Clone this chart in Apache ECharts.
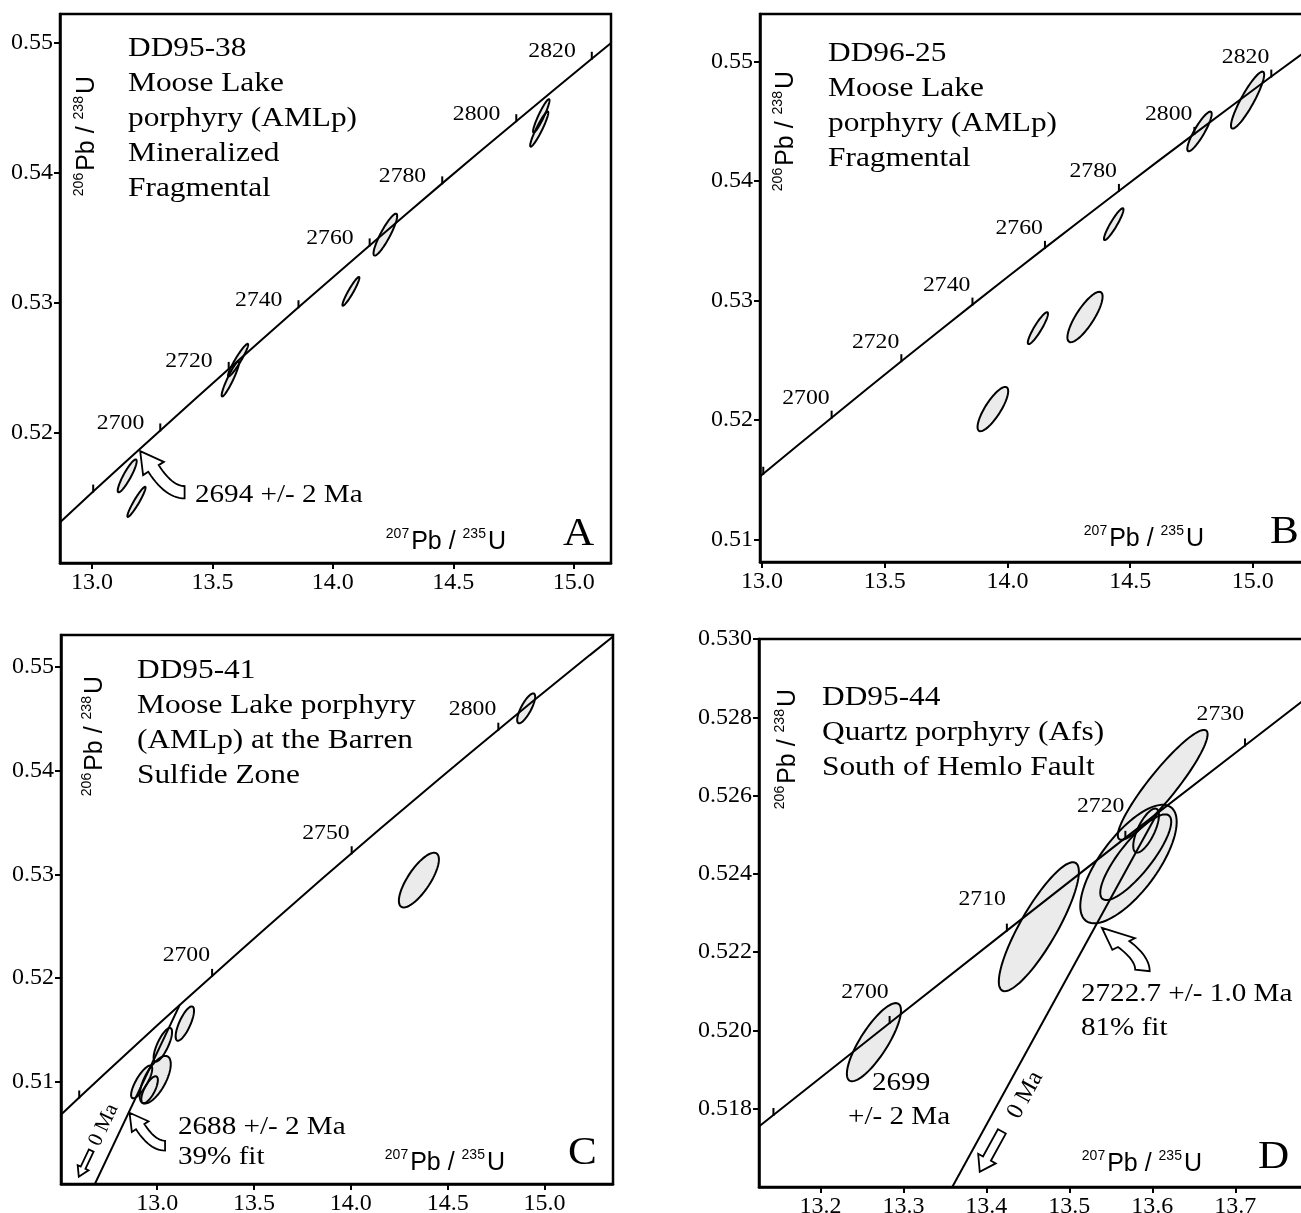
<!DOCTYPE html>
<html>
<head>
<meta charset="utf-8">
<title>U-Pb concordia diagrams</title>
<script src="https://cdn.jsdelivr.net/npm/echarts@6.0.0/dist/echarts.min.js"></script>
<style>
html,body{margin:0;padding:0;background:#fff;}
#chart{width:1301px;height:1213px;}
</style>
</head>
<body>
<div id="chart"></div>
<script>
// ================= DATA =================
// Concordia curve (207Pb/235U, 206Pb/238U) at the ages (Ma) marked along it
const concordiaAge = [2620,2630,2640,2650,2660,2670,2680,2690,2700,2710,2720,2730,2740,2750,2760,2770,2780,2790,2800,2810,2820,2830,2840];
const concordiaX = [12.2012,12.3319,12.4638,12.5971,12.7316,12.8675,13.0048,13.1434,13.2834,13.4247,13.5675,13.7117,13.8573,14.0043,14.1528,14.3028,14.4542,14.6072,14.7617,14.9177,15.0752,15.2343,15.3950];
const concordiaY = [0.50145,0.50378,0.50611,0.50845,0.51079,0.51314,0.51549,0.51784,0.52019,0.52255,0.52492,0.52728,0.52966,0.53203,0.53441,0.53679,0.53918,0.54157,0.54396,0.54636,0.54876,0.55116,0.55357];

// Axis tick labels
const xTicksA = [13.0, 13.5, 14.0, 14.5, 15.0];
const yTicksA = [0.52, 0.53, 0.54, 0.55];
const xTicksB = [13.0, 13.5, 14.0, 14.5, 15.0];
const yTicksB = [0.51, 0.52, 0.53, 0.54, 0.55];
const xTicksC = [13.0, 13.5, 14.0, 14.5, 15.0];
const yTicksC = [0.51, 0.52, 0.53, 0.54, 0.55];
const xTicksD = [13.2, 13.3, 13.4, 13.5, 13.6, 13.7];
const yTicksD = [0.518, 0.520, 0.522, 0.524, 0.526, 0.528, 0.530];

// Age marks on the concordia, and which of them carry a label
const ageMarksA = [2680,2700,2720,2740,2760,2780,2800,2820];
const ageLabelsA = [2700,2720,2740,2760,2780,2800,2820];
const ageMarksB = [2680,2700,2720,2740,2760,2780,2800,2820];
const ageLabelsB = [2700,2720,2740,2760,2780,2800,2820];
const ageMarksC = [2650,2700,2750,2800];
const ageLabelsC = [2700,2750,2800];
const ageMarksD = [2690,2700,2710,2720,2730];
const ageLabelsD = [2700,2710,2720,2730];

// Error ellipses: [x tip 1, y tip 1, x tip 2, y tip 2, minor/major axis ratio]
const ellipsesA = [
  [14.898,0.54565,14.833,0.54309,0.15],
  [14.893,0.54470,14.821,0.54201,0.15],
  [14.264,0.53684,14.172,0.53364,0.20],
  [14.109,0.53198,14.041,0.52978,0.15],
  [13.647,0.52684,13.566,0.52435,0.15],
  [13.609,0.52550,13.540,0.52281,0.15],
  [13.183,0.51795,13.109,0.51544,0.20],
  [13.221,0.51585,13.148,0.51355,0.15]
];
const ellipsesB = [
  [15.042,0.54916,14.915,0.54442,0.20],
  [14.829,0.54581,14.736,0.54252,0.22],
  [14.471,0.53772,14.395,0.53507,0.18],
  [14.163,0.52901,14.085,0.52636,0.20],
  [14.381,0.53069,14.251,0.52655,0.30],
  [13.997,0.52273,13.884,0.51909,0.30]
];
const ellipsesC = [
  [14.946,0.54744,14.865,0.54460,0.30],
  [14.443,0.53201,14.260,0.52687,0.35],
  [13.182,0.51723,13.103,0.51395,0.30],
  [13.069,0.51515,12.989,0.51193,0.30],
  [13.054,0.51241,12.925,0.50792,0.40],
  [12.968,0.51151,12.871,0.50840,0.30],
  [12.996,0.51048,12.925,0.50792,0.35]
];
const ellipsesD = [
  [13.294,0.52068,13.235,0.51872,0.30],
  [13.5075,0.52428,13.419,0.52102,0.25],
  [13.665,0.52766,13.560,0.52489,0.20],
  [13.6225,0.52570,13.520,0.52280,0.40],
  [13.620,0.52549,13.540,0.52336,0.30],
  [13.605,0.52566,13.580,0.52455,0.35]
];

// Discordia lines: upper intercept on the concordia and lower intercept (0 Ma)
const discordiaC = [[13.1157,0.51737],[0,0]];
const discordiaD = [[13.6064,0.52556],[0,0]];

// ================= LAYOUT / STYLE =================
const SERIF = '"Liberation Serif","Times New Roman",Times,serif';
const SANS = '"Liberation Sans",Arial,Helvetica,sans-serif';

const panels = [
  {grid:{left:60,top:14,width:551,height:549}, xr:[12.867,15.155], yr:[0.5100,0.5522], xt:xTicksA, yt:yTicksA, xd:1, yd:2,
   ell:ellipsesA, marks:ageMarksA, labels:ageLabelsA, lab:{dx:16,dy:7}, xName:{gap:105,up:8}, yName:{gap:62,off:12}},
  {grid:{left:760,top:14,width:551,height:548}, xr:[12.9915,15.237], yr:[0.5081,0.5540], xt:xTicksB, yt:yTicksB, xd:1, yd:2,
   ell:ellipsesB, marks:ageMarksB, labels:ageLabelsB, lab:{dx:2,dy:19}, xName:{gap:107,up:10}, yName:{gap:57,off:11}},
  {grid:{left:61,top:635,width:552,height:549}, xr:[12.503,15.354], yr:[0.5001,0.5531], xt:xTicksC, yt:yTicksC, xd:1, yd:2,
   ell:ellipsesC, marks:ageMarksC, labels:ageLabelsC, lab:{dx:2,dy:20}, xName:{gap:108,up:8}, yName:{gap:41,off:19}, disc:discordiaC},
  {grid:{left:759,top:639,width:551,height:548}, xr:[13.126,13.79], yr:[0.516,0.530], xt:xTicksD, yt:yTicksD, xd:1, yd:3,
   ell:ellipsesD, marks:ageMarksD, labels:ageLabelsD, lab:{dx:1,dy:31}, xName:{gap:108,up:10}, yName:{gap:50,off:14}, disc:discordiaD}
];

const richAxis = {
  s:{fontFamily:SANS,fontSize:14,color:'#000',verticalAlign:'top',lineHeight:28,padding:[0,2,0,0]},
  m:{fontFamily:SANS,fontSize:25,color:'#000',verticalAlign:'bottom',lineHeight:28}
};

function concPoint(age){ const k = concordiaAge.indexOf(age); return [concordiaX[k], concordiaY[k]]; }

function ellRender(mode){
  return function(params, api){
    const p1 = api.coord([api.value(0), api.value(1)]);
    const p2 = api.coord([api.value(2), api.value(3)]);
    const r = api.value(4);
    const cx=(p1[0]+p2[0])/2, cy=(p1[1]+p2[1])/2;
    const dx=(p1[0]-p2[0])/2, dy=(p1[1]-p2[1])/2;
    const a=Math.hypot(dx,dy), b=a*r, ux=dx/a, uy=dy/a;
    const pts=[];
    for(let k=0;k<96;k++){
      const t=k/96*Math.PI*2, c=Math.cos(t)*a, s=Math.sin(t)*b;
      pts.push([cx+ux*c-uy*s, cy+uy*c+ux*s]);
    }
    return {type:'polygon', shape:{points:pts},
      style: mode==='fill' ? {fill:'#ebebeb', stroke:'none'} : {fill:'none', stroke:'#000', lineWidth:2}};
  };
}

function markRender(lab){
  return function(params, api){
    const p = api.coord([api.value(0), api.value(1)]);
    const ch = [{type:'line', shape:{x1:p[0],y1:p[1]+1,x2:p[0],y2:p[1]-7}, style:{stroke:'#000',lineWidth:2}}];
    if (api.value(3) === 1) {
      ch.push({type:'text', x:p[0]-lab.dx, y:p[1]-lab.dy, scaleX:1.13,
        style:{text:String(api.value(2)), fontFamily:SERIF, fontSize:21, fill:'#000', align:'right', verticalAlign:'middle'}});
    }
    return {type:'group', children:ch};
  };
}

function quad(p0,c,p1,n){
  const out=[];
  for(let k=1;k<=n;k++){const t=k/n,u=1-t; out.push([u*u*p0[0]+2*u*t*c[0]+t*t*p1[0], u*u*p0[1]+2*u*t*c[1]+t*t*p1[1]]);}
  return out;
}
// curved hollow arrow shape, pixel offsets from its tip
function curvedShape(sh){
  return [[0,0], sh.rb, sh.rn].concat(quad(sh.rn, sh.rc, sh.rt, 14), [sh.lt], quad(sh.lt, sh.lc, sh.ln, 14), [sh.lb]);
}
const shapeAC = curvedShape({rb:[23.7,10.7], rn:[18.5,14], rc:[32,35], rt:[44.4,35], lt:[44.4,47.3], lc:[25.3,47.3], ln:[8.1,20.7], lb:[2.9,24]});
const shapeD = curvedShape({rb:[33,10.3], rn:[27.35,13.2], rc:[47.7,28.5], rt:[47.7,43.3], lt:[33.2,41.7], lc:[33.2,32], ln:[16,19.1], lb:[10.4,22]});

function curvedArrowRender(shape, s){
  return function(params, api){
    const p = api.coord([api.value(0), api.value(1)]);
    return {type:'polygon', shape:{points:shape.map(q=>[p[0]+q[0]*s, p[1]+q[1]*s])},
      style:{fill:'#fff', stroke:'#000', lineWidth:1.8}};
  };
}
function straightArrowRender(disc, len, hw, sw, hl){
  return function(params, api){
    const tip = api.coord([api.value(0), api.value(1)]);
    const a = api.coord(disc[0]), b = api.coord(disc[1]);
    let dx=b[0]-a[0], dy=b[1]-a[1]; const L=Math.hypot(dx,dy); dx/=L; dy/=L;
    const nx=-dy, ny=dx;
    const loc=[[0,0],[-hl,hw],[-hl,sw],[-len,sw],[-len,-sw],[-hl,-sw],[-hl,-hw]];
    return {type:'polygon', shape:{points:loc.map(q=>[tip[0]+dx*q[0]+nx*q[1], tip[1]+dy*q[0]+ny*q[1]])},
      style:{fill:'#fff', stroke:'#000', lineWidth:1.8}};
  };
}

// annotation anchors (arrow tips) in data coordinates
const anchors = {
  arrowA:[13.200,0.5186], arrowC:[12.857,0.50698], arrowD:[13.5393,0.52262],
  zeroC:[12.595,0.50080], zeroD:[13.392,0.51639]
};

const series = [];
panels.forEach((p,i)=>{
  const base = {xAxisIndex:i, yAxisIndex:i, silent:true, animation:false};
  series.push(Object.assign({type:'custom', z:1, renderItem:ellRender('fill'), data:p.ell}, base));
  series.push(Object.assign({type:'line', z:2, symbol:'none', clip:true,
    lineStyle:{color:'#000',width:2}, data:concordiaX.map((x,k)=>[x,concordiaY[k]])}, base));
  if (p.disc) series.push(Object.assign({type:'line', z:2, symbol:'none', clip:true,
    lineStyle:{color:'#000',width:2}, data:p.disc}, base));
  series.push(Object.assign({type:'custom', z:3, renderItem:ellRender('stroke'), data:p.ell}, base));
  series.push(Object.assign({type:'custom', z:4, renderItem:markRender(p.lab),
    data:p.marks.map(a=>{const c=concPoint(a); return [c[0],c[1],a,p.labels.indexOf(a)>=0?1:0];})}, base));
});
series.push({type:'custom', xAxisIndex:0, yAxisIndex:0, z:5, silent:true, renderItem:curvedArrowRender(shapeAC,1), data:[anchors.arrowA]});
series.push({type:'custom', xAxisIndex:2, yAxisIndex:2, z:5, silent:true, renderItem:curvedArrowRender(shapeAC,0.8), data:[anchors.arrowC]});
series.push({type:'custom', xAxisIndex:3, yAxisIndex:3, z:5, silent:true, renderItem:curvedArrowRender(shapeD,1), data:[anchors.arrowD]});
series.push({type:'custom', xAxisIndex:2, yAxisIndex:2, z:5, silent:true, renderItem:straightArrowRender(discordiaC,29,6,2.6,10), data:[anchors.zeroC]});
series.push({type:'custom', xAxisIndex:3, yAxisIndex:3, z:5, silent:true, renderItem:straightArrowRender(discordiaD,46,10,4.5,15), data:[anchors.zeroD]});

function textEl(x, y, lines, size, lh, sx, extra){
  return Object.assign({type:'text', x:x, y:y, scaleX:sx||1, silent:true, z:10,
    style:{text:lines.join('\n'), fontFamily:SERIF, fontSize:size, lineHeight:lh, fill:'#000', align:'left', verticalAlign:'top'}}, extra||{});
}
const graphics = [
  textEl(128, 48-17, ['DD95-38','Moose Lake','porphyry (AMLp)','Mineralized','Fragmental'], 28, 35, 1.12),
  textEl(828, 53-17, ['DD96-25','Moose Lake','porphyry (AMLp)','Fragmental'], 28, 35, 1.12),
  textEl(137, 670-17, ['DD95-41','Moose Lake porphyry','(AMLp) at the Barren','Sulfide Zone'], 28, 35, 1.12),
  textEl(822, 697-17, ['DD95-44','Quartz porphyry (Afs)','South of Hemlo Fault'], 28, 35, 1.12),
  textEl(195, 495-15, ['2694 +/- 2 Ma'], 26, 30, 1.12),
  textEl(178, 1127-15, ['2688 +/- 2 Ma','39% fit'], 26, 30, 1.12),
  textEl(1081, 993-16, ['2722.7 +/- 1.0 Ma','81% fit'], 26, 34, 1.12),
  textEl(872, 1083-16, ['2699'], 26, 32, 1.12),
  textEl(848, 1117-16, ['+/- 2 Ma'], 26, 32, 1.12),
  textEl(563, 534-22, ['A'], 40, 44, 1.08),
  textEl(1270, 532-22, ['B'], 40, 44, 1.08),
  textEl(568, 1153-22, ['C'], 40, 44, 1.08),
  textEl(1258, 1157-22, ['D'], 40, 44, 1.08),
  {type:'text', x:103.7, y:1125, rotation:1.129, silent:true, z:10,
    style:{text:'0 Ma', fontFamily:SERIF, fontSize:21, fill:'#000', align:'center', verticalAlign:'middle'}},
  {type:'text', x:1025.4, y:1095, rotation:1.068, silent:true, z:10,
    style:{text:'0 Ma', fontFamily:SERIF, fontSize:24, fill:'#000', align:'center', verticalAlign:'middle'}}
];

const option = {
  animation:false,
  backgroundColor:'#fff',
  tooltip:{show:false},
  grid: panels.map(p=>({left:p.grid.left, top:p.grid.top, width:p.grid.width, height:p.grid.height,
    show:true, borderColor:'#000', borderWidth:2.5, backgroundColor:'transparent', containLabel:false, outerBoundsMode:'none'})),
  xAxis: panels.map((p,i)=>({
    type:'value', gridIndex:i, min:p.xr[0], max:p.xr[1],
    axisLine:{show:true,onZero:false,lineStyle:{color:'#000',width:2.5}},
    axisTick:{show:true,inside:false,length:6,lineStyle:{color:'#000',width:2},customValues:p.xt},
    axisLabel:{show:true,customValues:p.xt,formatter:(v)=>Number(v).toFixed(p.xd),fontFamily:SERIF,fontSize:24,color:'#000',margin:8},
    splitLine:{show:false},
    name:'{s|207}{m|Pb / }{s|235}{m|U}', nameLocation:'end', nameGap:-p.xName.gap, nameMoveOverlap:false,
    nameTextStyle:{align:'right', verticalAlign:'bottom', padding:[0,0,p.xName.up,0], rich:richAxis}
  })),
  yAxis: panels.map((p,i)=>({
    type:'value', gridIndex:i, min:p.yr[0], max:p.yr[1],
    axisLine:{show:true,onZero:false,lineStyle:{color:'#000',width:2.5}},
    axisTick:{show:true,inside:false,length:6,lineStyle:{color:'#000',width:2},customValues:p.yt},
    axisLabel:{show:true,customValues:p.yt,formatter:(v)=>Number(v).toFixed(p.yd),fontFamily:SERIF,fontSize:24,color:'#000',margin:7},
    splitLine:{show:false},
    name:'{s|206}{m|Pb / }{s|238}{m|U}', nameLocation:'end', nameGap:-p.yName.gap, nameRotate:90, nameMoveOverlap:false,
    nameTextStyle:{align:'right', verticalAlign:'top', padding:[p.yName.off,0,0,0], rich:richAxis}
  })),
  series: series,
  graphic:{elements:graphics}
};

const chart = echarts.init(document.getElementById('chart'), null, {renderer:'canvas', width:1301, height:1213});
chart.setOption(option);
</script>
</body>
</html>
